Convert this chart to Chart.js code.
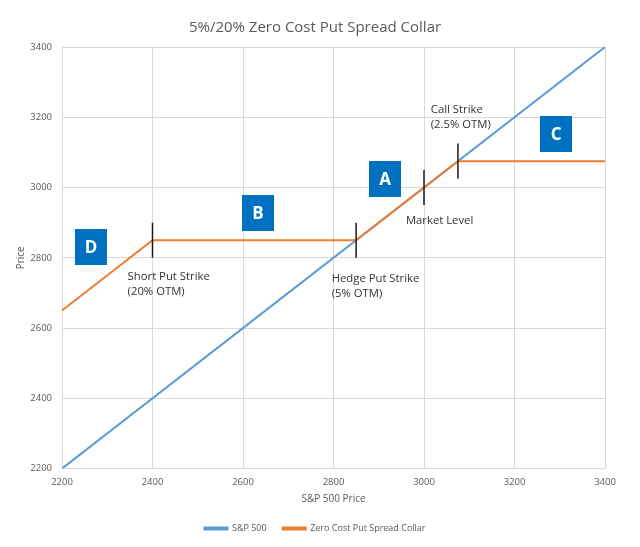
<!DOCTYPE html>
<html>
<head>
<meta charset="utf-8">
<script src="https://cdn.jsdelivr.net/npm/chart.js@4/dist/chart.umd.min.js"></script>
<style>
  html, body { margin: 0; padding: 0; background: #fff; }
</style>
</head>
<body>
<canvas id="chart" width="640" height="547"></canvas>
<script>
// S&P 500 price on the x axis, payoff price on the y axis
var spX = [2200, 3400];
var spY = [2200, 3400];
var collarX = [2200, 2400, 2850, 3075, 3400];
var collarY = [2650, 2850, 2850, 3075, 3075];

// short vertical marks at the strikes / market level
var strikeX = [2400, 2850, 3000, 3075];
var strikeY = [2850, 2850, 3000, 3075];
var strikeHalf = 50;

// letter boxes (centre in data units)
var boxLetters = ["D", "B", "A", "C"];
var boxX = [2264, 2633, 2914, 3292];
var boxY = [2831, 2927, 3024, 3153];

// text notes (left edge / first line in data units)
var noteLines = [["Short Put Strike", "(20% OTM)"], ["Hedge Put Strike", "(5% OTM)"], ["Market Level"], ["Call Strike", "(2.5% OTM)"]];
var noteX = [2345, 2796, 2960, 3015];
var noteY = [2747, 2741, 2904, 3221];

var FONT = "'Open Sans', sans-serif";
var GREY = "#595959";

function toPoints(xs, ys) {
  return xs.map(function (x, i) { return {x: x, y: ys[i]}; });
}

var strikePts = [];
strikeX.forEach(function (x, i) {
  strikePts.push({x: x, y: strikeY[i] - strikeHalf});
  strikePts.push({x: x, y: strikeY[i] + strikeHalf});
  strikePts.push({x: x, y: null});
});

var notesPlugin = {
  id: "notes",
  afterDatasetsDraw: function (chart) {
    var ctx = chart.ctx, xs = chart.scales.x, ys = chart.scales.y;
    ctx.save();
    // letter boxes
    boxLetters.forEach(function (letter, i) {
      var cx = xs.getPixelForValue(boxX[i]), cy = ys.getPixelForValue(boxY[i]);
      ctx.fillStyle = "#0070C0";
      ctx.fillRect(Math.round(cx - 16), Math.round(cy - 18), 32, 36);
      ctx.fillStyle = "#ffffff";
      ctx.font = "bold 17px " + FONT;
      ctx.textAlign = "center";
      ctx.textBaseline = "middle";
      ctx.fillText(letter, cx, cy + 1);
    });
    // notes
    ctx.fillStyle = "#333333";
    ctx.font = "11.3px " + FONT;
    ctx.textAlign = "left";
    ctx.textBaseline = "middle";
    noteLines.forEach(function (lines, i) {
      var lx = xs.getPixelForValue(noteX[i]), ly = ys.getPixelForValue(noteY[i]);
      lines.forEach(function (t, j) { ctx.fillText(t, lx, ly + j * 15); });
    });
    ctx.restore();
  }
};

function plain(v) { return String(v); }

new Chart(document.getElementById("chart"), {
  type: "line",
  data: {
    datasets: [
      {label: "S&P 500", data: toPoints(spX, spY), borderColor: "#5B9BD5", backgroundColor: "#5B9BD5", borderWidth: 2, pointRadius: 0, order: 3},
      {label: "Zero Cost Put Spread Collar", data: toPoints(collarX, collarY), borderColor: "#ED7D31", backgroundColor: "#ED7D31", borderWidth: 2, pointRadius: 0, order: 2},
      {label: "strikes", data: strikePts, borderColor: "#1a1a1a", borderWidth: 1.5, pointRadius: 0, spanGaps: false, order: 1}
    ]
  },
  options: {
    responsive: false,
    animation: false,
    layout: {padding: {top: 18.5, right: 10, left: 0, bottom: 4}},
    plugins: {
      tooltip: {enabled: false},
      title: {
        display: true,
        text: "5%/20% Zero Cost Put Spread Collar",
        color: GREY,
        font: {family: FONT, size: 15, weight: "normal"},
        padding: {top: 0, bottom: 10.5}
      },
      legend: {
        position: "bottom",
        labels: {
          color: GREY,
          font: {family: FONT, size: 9},
          boxWidth: 23,
          boxHeight: 2,
          padding: 16,
          filter: function (item) { return item.text !== "strikes"; },
          sort: function (a, b) { return a.datasetIndex - b.datasetIndex; }
        }
      }
    },
    scales: {
      x: {
        type: "linear",
        min: 2200, max: 3400,
        ticks: {stepSize: 200, color: GREY, font: {family: FONT, size: 9.5}, padding: 8, callback: plain},
        grid: {color: "#d9d9d9", drawTicks: false},
        border: {color: "#d9d9d9"},
        title: {display: true, text: "S&P 500 Price", color: GREY, font: {family: FONT, size: 10}, padding: {top: -3, bottom: 3}}
      },
      y: {
        min: 2200, max: 3400,
        ticks: {stepSize: 200, color: GREY, font: {family: FONT, size: 9.5}, padding: 10, callback: plain},
        grid: {color: "#d9d9d9", drawTicks: false},
        border: {color: "#d9d9d9"},
        title: {display: true, text: "Price", color: GREY, font: {family: FONT, size: 10}, padding: {top: 15, bottom: 0}},
        afterFit: function (scale) { scale.width = 62; }
      },
      // empty right axis, just keeps the plot clear of the right edge
      yRight: {
        position: "right",
        min: 2200, max: 3400,
        ticks: {display: false},
        grid: {display: false},
        border: {display: false},
        afterFit: function (scale) { scale.width = 25; }
      }
    }
  },
  plugins: [notesPlugin]
});
</script>
</body>
</html>
